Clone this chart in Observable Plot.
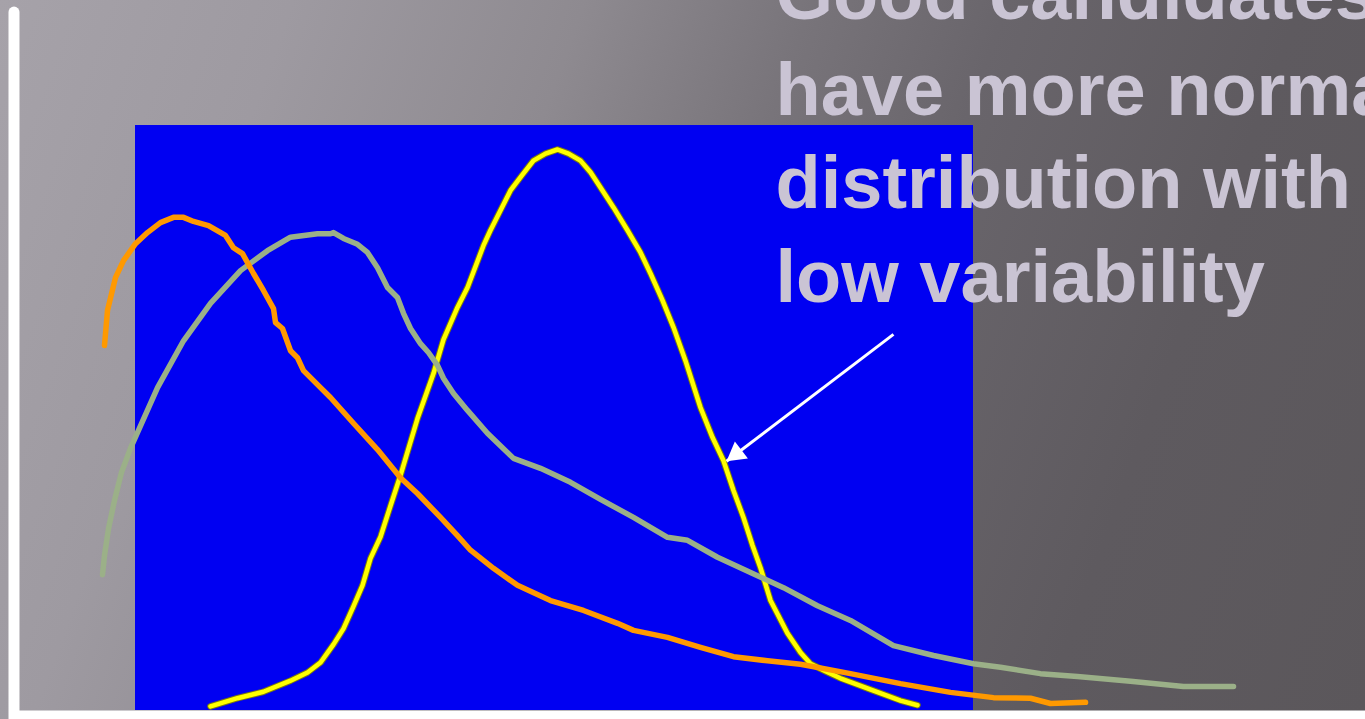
<!DOCTYPE html>
<html>
<head>
<meta charset="utf-8">
<script src="https://cdn.jsdelivr.net/npm/d3@7"></script>
<script src="https://cdn.jsdelivr.net/npm/@observablehq/plot@0.6"></script>
<style>
  html, body { margin: 0; padding: 0; overflow: hidden; background: #5d595d; }
  #chart svg { display: block; }
</style>
</head>
<body>
<div id="chart"></div>
<script>
// Curve values (x: score units, y: density units)
const orangeCurve = [
  [-3.70,62.4],[-3.34,68.4],[-2.39,74.0],[-1.43,76.9],[0,79.8],[1.43,81.7],[2.98,83.4],[4.53,84.3],
  [5.73,84.3],[6.92,83.6],[8.71,82.9],[10.74,81.2],[11.69,79.1],[12.77,78.1],[14.08,74.7],[15.27,71.8],
  [16.47,68.7],[16.71,66.3],[17.54,65.3],[18.50,61.5],[19.33,60.3],[20.05,58.1],[22.08,55.2],[23.27,53.5],
  [26.01,49.1],[28.88,44.6],[31.62,39.8],[33.65,37.1],[36.40,33.0],[38.42,29.9],[39.98,27.4],[42.72,24.3],
  [45.58,21.4],[49.52,18.8],[53.46,17.1],[57.52,14.9],[59.43,13.7],[63.48,12.5],[67.42,10.8],[71.36,9.2],
  [75.42,8.5],[79.36,7.9],[85.32,6.3],[91.29,4.6],[97.26,3.1],[102.39,2.2],[106.80,2.1],[109.19,1.2],[113.37,1.4]
];
const greenCurve = [
  [-3.94,23.2],[-3.70,26.5],[-3.22,31.1],[-2.51,35.9],[-1.67,40.7],[-0.60,44.8],[2.63,55.2],[5.73,63.2],
  [8.95,69.6],[12.53,75.2],[15.75,78.6],[18.50,80.9],[21.72,81.5],[23.27,81.5],[23.63,81.7],[24.82,80.7],
  [26.49,79.7],[27.68,78.3],[28.88,75.7],[30.07,72.3],[31.26,70.6],[31.98,67.9],[32.82,65.3],[34.01,62.7],
  [34.96,61.2],[36.04,59.0],[36.75,56.8],[37.95,54.2],[39.62,51.3],[42.00,47.4],[45.11,43.1],[48.33,41.4],
  [51.91,39.0],[55.49,36.1],[59.43,33.0],[63.48,29.6],[65.87,29.1],[69.45,26.2],[73.39,23.6],[77.33,21.0],
  [81.38,17.9],[85.32,15.4],[90.45,11.1],[95.23,9.4],[100.0,8.0],[103.22,7.4],[107.99,6.3],[112.41,5.8],
  [118.74,5.0],[125.06,4.1],[131.03,4.1]
];
const yellowCurve = [
  [8.95,0.7],[12.17,2.1],[15.27,3.2],[18.50,5.1],[20.53,6.5],[22.08,8.2],[23.63,11.3],[24.82,14.0],
  [26.01,17.8],[27.09,21.4],[28.04,26.0],[29.24,29.7],[30.43,35.0],[31.62,40.2],[33.65,49.9],[35.56,57.6],
  [36.75,63.4],[38.42,68.9],[39.62,72.3],[41.53,79.5],[42.36,82.1],[44.15,87.2],[44.75,88.9],[46.18,91.6],
  [47.49,94.0],[48.93,95.2],[50.36,95.9],[51.67,95.2],[53.10,94.0],[54.30,92.0],[55.49,89.4],[57.04,86.0],
  [58.71,82.1],[60.26,78.3],[61.46,74.7],[62.89,70.1],[64.20,65.5],[65.63,59.8],[67.42,51.8],[68.85,46.7],
  [70.17,42.7],[71.36,37.6],[72.55,33.0],[73.63,28.2],[74.58,24.4],[75.78,18.8],[77.80,13.2],[79.36,9.9],
  [80.55,8.0],[82.34,6.7],[84.13,5.5],[88.07,3.4],[91.29,1.7],[93.32,0.9]
];
// Panel (blue plotting area) extent
const panelX = [0, 100];
const panelY = [0, 100];
// Frame axes (white lines)
const axisXPos = -14.5;     // vertical axis position
const axisTop = 119.3;
const axisBottomY = -0.85;  // horizontal axis position
const axisRight = 150;
// Annotation
const annotationLines = ["Good candidates", "have more normal", "distribution with", "low variability"];
const annotationX = 76.37;
const annotationY = [118.5, 102.2, 86.2, 70.1];
const arrowFrom = [90.45, 64.3];
const arrowTo = [70.53, 42.6];

const W = 1365, H = 719;
const xDomain = [-16.11, 146.78];
const yDomain = [-1.538, 121.37];

const sx = Plot.scale({x: {domain: xDomain, range: [0, W]}});
const sy = Plot.scale({y: {domain: yDomain, range: [H, 0]}});
const ang = Math.atan2(sy.apply(arrowTo[1]) - sy.apply(arrowFrom[1]), sx.apply(arrowTo[0]) - sx.apply(arrowFrom[0]));
const headR = 8;
const headCentroid = 2 * Math.sqrt(headR * headR * Math.PI / (Math.sqrt(3) * 3));
const rotDeg = ang * 180 / Math.PI + 90;

const textRows = annotationLines.map((t, i) => ({t, x: annotationX, y: annotationY[i]}));
const arrowRow = [{x1: arrowFrom[0], y1: arrowFrom[1], x2: arrowTo[0], y2: arrowTo[1]}];

const plot = Plot.plot({
  width: W, height: H,
  margin: 0,
  x: {domain: xDomain, axis: null},
  y: {domain: yDomain, axis: null},
  style: {
    background: "linear-gradient(110deg, #a6a2a9 0%, #9e9aa1 18%, #8e8a90 36%, #78747a 50%, #69656b 62%, #5e5a5f 80%, #5b575b 100%)",
    overflow: "hidden",
    fontFamily: "'Liberation Sans', Arial, sans-serif"
  },
  marks: [
    Plot.rect([0], {x1: panelX[0], x2: panelX[1], y1: panelY[0], y2: panelY[1], fill: "#0000f2"}),
    Plot.text(textRows, {x: "x", y: "y", text: "t", textAnchor: "start", lineAnchor: "bottom",
      fontSize: 74, fontWeight: "bold", fill: "#cac4d4", dy: 2}),
    Plot.line(yellowCurve, {x: d => d[0], y: d => d[1], stroke: "#7a7a10", strokeWidth: 6.5, strokeLinejoin: "round"}),
    Plot.line(yellowCurve, {x: d => d[0], y: d => d[1], stroke: "#ffff00", strokeWidth: 4.5, strokeLinejoin: "round"}),
    Plot.line(greenCurve, {x: d => d[0], y: d => d[1], stroke: "#9bb088", strokeWidth: 5.5, strokeLinecap: "round", strokeLinejoin: "round"}),
    Plot.line(orangeCurve, {x: d => d[0], y: d => d[1], stroke: "#ff9900", strokeWidth: 5.5, strokeLinecap: "round", strokeLinejoin: "round"}),
    Plot.link(arrowRow, {x1: "x1", y1: "y1", x2: "x2", y2: "y2", stroke: "white", strokeWidth: 3}),
    Plot.dot(arrowRow, {x: "x2", y: "y2", symbol: "triangle", r: headR, fill: "white", stroke: null,
      rotate: rotDeg, dx: -Math.cos(ang) * headCentroid, dy: -Math.sin(ang) * headCentroid}),
    Plot.ruleX([axisXPos], {y1: yDomain[0], y2: axisTop, stroke: "white", strokeWidth: 11, strokeLinecap: "round"}),
    Plot.ruleY([axisBottomY], {x1: axisXPos, x2: axisRight, stroke: "white", strokeWidth: 10})
  ]
});
document.getElementById("chart").appendChild(plot);
</script>
</body>
</html>
